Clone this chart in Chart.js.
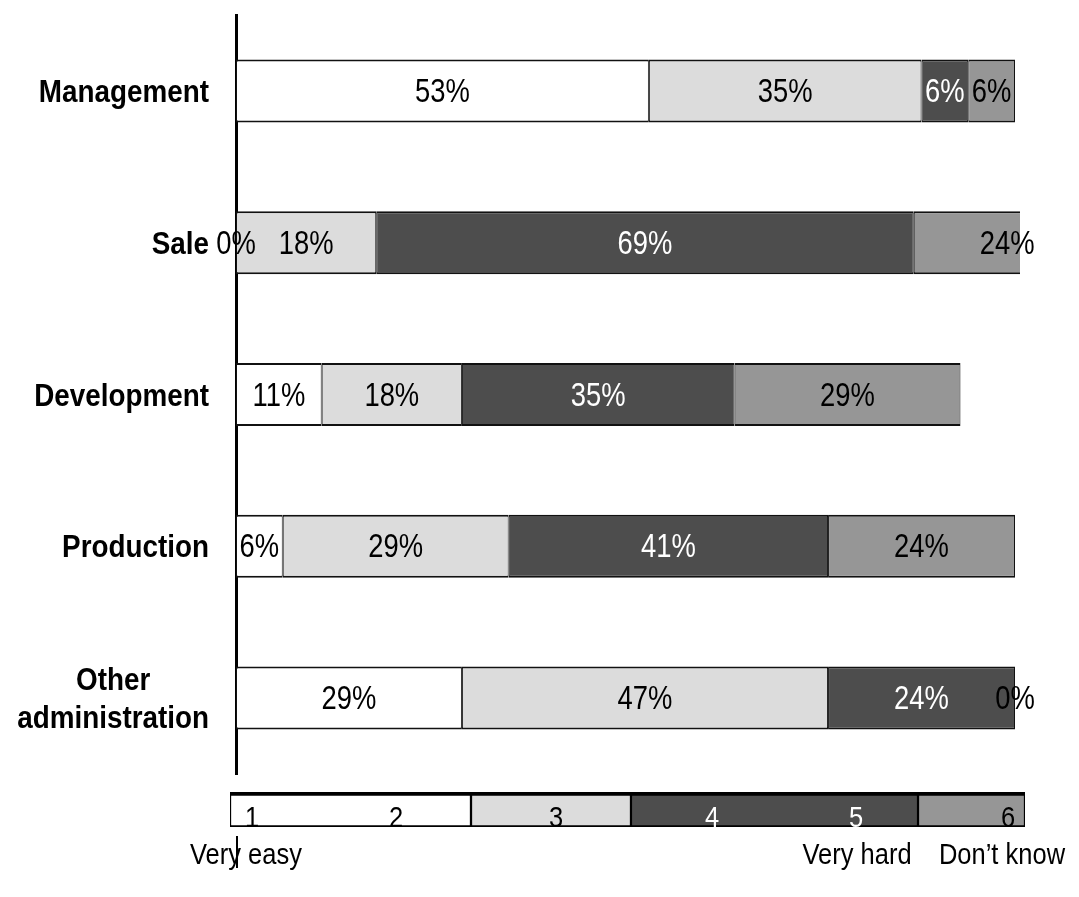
<!DOCTYPE html>
<html>
<head>
<meta charset="utf-8">
<script src="https://cdn.jsdelivr.net/npm/chart.js@4"></script>
<style>
  html, body { margin: 0; padding: 0; background: #fff; }
  #wrap { position: relative; width: 1079px; height: 897px; }
  #wrap canvas { position: absolute; left: 0; top: 0; }
</style>
</head>
<body>
<div id="wrap">
  <canvas id="chart" width="1079" height="897"></canvas>
  <canvas id="scale" width="1079" height="897"></canvas>
</div>
<script>
// answers per department, in percent
const categories = ['Management', 'Sale', 'Development', 'Production', ['Other', 'administration']];
const easy = [53, 0, 11, 6, 29];      // 1-2
const neutral = [35, 18, 18, 29, 47]; // 3
const hard = [6, 69, 35, 41, 24];     // 4-5
const dontKnow = [6, 24, 29, 24, 0];  // 6

// the answer scale shown under the chart
const legendWidths = [241, 160, 287, 107];
const legendNumbers = ['1', '2', '3', '4', '5', '6'];
const legendNumberAt = [22, 166, 326, 482, 626, 778];
const legendTexts = ['Very easy', 'Very hard', "Don\u2019t know"];
const legendTextAt = [16, 627, 772];
const legendMarkAt = [7];

const fills = ['#ffffff', '#dcdcdc', '#4d4d4d', '#969696'];
const textColors = ['#000', '#000', '#fff', '#000'];
const FONT = '"Liberation Sans", Arial, sans-serif';

// the original uses a condensed face, so squeeze the text sideways
function narrowText(ctx, text, x, y, sx) {
    ctx.save();
    ctx.translate(x, y);
    ctx.scale(sx, 1);
    ctx.fillText(text, 0, 0);
    ctx.restore();
}

const valueLabels = {
    id: 'valueLabels',
    afterDatasetsDraw(chart) {
        const ctx = chart.ctx;
        ctx.save();
        ctx.font = '33px ' + FONT;
        ctx.textAlign = 'center';
        ctx.textBaseline = 'alphabetic';
        chart.data.datasets.forEach((ds, i) => {
            ctx.fillStyle = textColors[i];
            chart.getDatasetMeta(i).data.forEach((bar, j) => {
                narrowText(ctx, ds.data[j] + '%', (bar.x + bar.base) / 2, bar.y + 11, 0.83);
            });
        });
        ctx.restore();
    }
};

const categoryLabels = {
    id: 'categoryLabels',
    afterDraw(chart) {
        const ctx = chart.ctx;
        const y = chart.scales.y;
        const sx = 0.87;
        ctx.save();
        ctx.font = 'bold 32px ' + FONT;
        ctx.fillStyle = '#000';
        ctx.textAlign = 'center';
        ctx.textBaseline = 'alphabetic';
        const right = y.right - 27;
        categories.forEach((label, i) => {
            const lines = [].concat(label);
            const w = Math.max(...lines.map(l => ctx.measureText(l).width)) * sx;
            const cy = y.getPixelForTick(i);
            lines.forEach((l, k) => {
                narrowText(ctx, l, right - w / 2, cy + 11 + (k - (lines.length - 1) / 2) * 38, sx);
            });
        });
        ctx.restore();
    }
};

new Chart(document.getElementById('chart'), {
    type: 'bar',
    data: {
        labels: categories,
        datasets: [easy, neutral, hard, dontKnow].map((data, i) => ({
            data,
            backgroundColor: fills[i],
        })),
    },
    options: {
        indexAxis: 'y',
        responsive: false,
        animation: false,
        layout: { padding: { top: 15, right: 59, bottom: 123, left: 0 } },
        plugins: { legend: { display: false }, tooltip: { enabled: false } },
        datasets: {
            bar: {
                categoryPercentage: 1,
                barPercentage: 0.415,
                borderWidth: { top: 2, bottom: 2, left: 1, right: 1 },
                borderColor: '#111',
                borderSkipped: false,
            },
        },
        scales: {
            x: { stacked: true, min: 0, max: 100.64, display: false },
            y: {
                stacked: true,
                grid: { display: false, drawTicks: false },
                border: { display: true, color: '#000', width: 3 },
                ticks: { display: false },
                afterFit: (s) => { s.width = 236; },
            },
        },
    },
    plugins: [valueLabels, categoryLabels],
});

const legendText = {
    id: 'legendText',
    afterDraw(chart) {
        const ctx = chart.ctx;
        const x = chart.scales.x;
        const area = chart.chartArea;
        ctx.save();
        ctx.font = '30px ' + FONT;
        ctx.textAlign = 'center';
        ctx.textBaseline = 'alphabetic';
        legendNumbers.forEach((n, i) => {
            let seg = 0, acc = legendWidths[0];
            while (legendNumberAt[i] > acc && seg < legendWidths.length - 1) {
                seg++;
                acc += legendWidths[seg];
            }
            ctx.fillStyle = textColors[seg];
            narrowText(ctx, n, x.getPixelForValue(legendNumberAt[i]), area.bottom, 0.85);
        });
        ctx.fillStyle = '#000';
        legendTexts.forEach((t, i) => {
            narrowText(ctx, t, x.getPixelForValue(legendTextAt[i]), area.bottom + 37, 0.85);
        });
        ctx.strokeStyle = '#000';
        ctx.lineWidth = 2;
        legendMarkAt.forEach((v) => {
            const px = x.getPixelForValue(v);
            ctx.beginPath();
            ctx.moveTo(px, area.bottom + 9);
            ctx.lineTo(px, area.bottom + 41);
            ctx.stroke();
        });
        ctx.restore();
    }
};

new Chart(document.getElementById('scale'), {
    type: 'bar',
    data: {
        labels: [''],
        datasets: legendWidths.map((w, i) => ({ data: [w], backgroundColor: fills[i] })),
    },
    options: {
        indexAxis: 'y',
        responsive: false,
        animation: false,
        layout: { padding: { top: 792, right: 54, bottom: 70, left: 230 } },
        plugins: { legend: { display: false }, tooltip: { enabled: false } },
        datasets: {
            bar: {
                categoryPercentage: 1,
                barPercentage: 1,
                borderWidth: { top: 4, bottom: 2, left: 1.5, right: 1.5 },
                borderColor: '#000',
                borderSkipped: false,
            },
        },
        scales: {
            x: { stacked: true, min: 0, max: 795, display: false },
            y: { stacked: true, display: false },
        },
    },
    plugins: [legendText],
});
</script>
</body>
</html>
